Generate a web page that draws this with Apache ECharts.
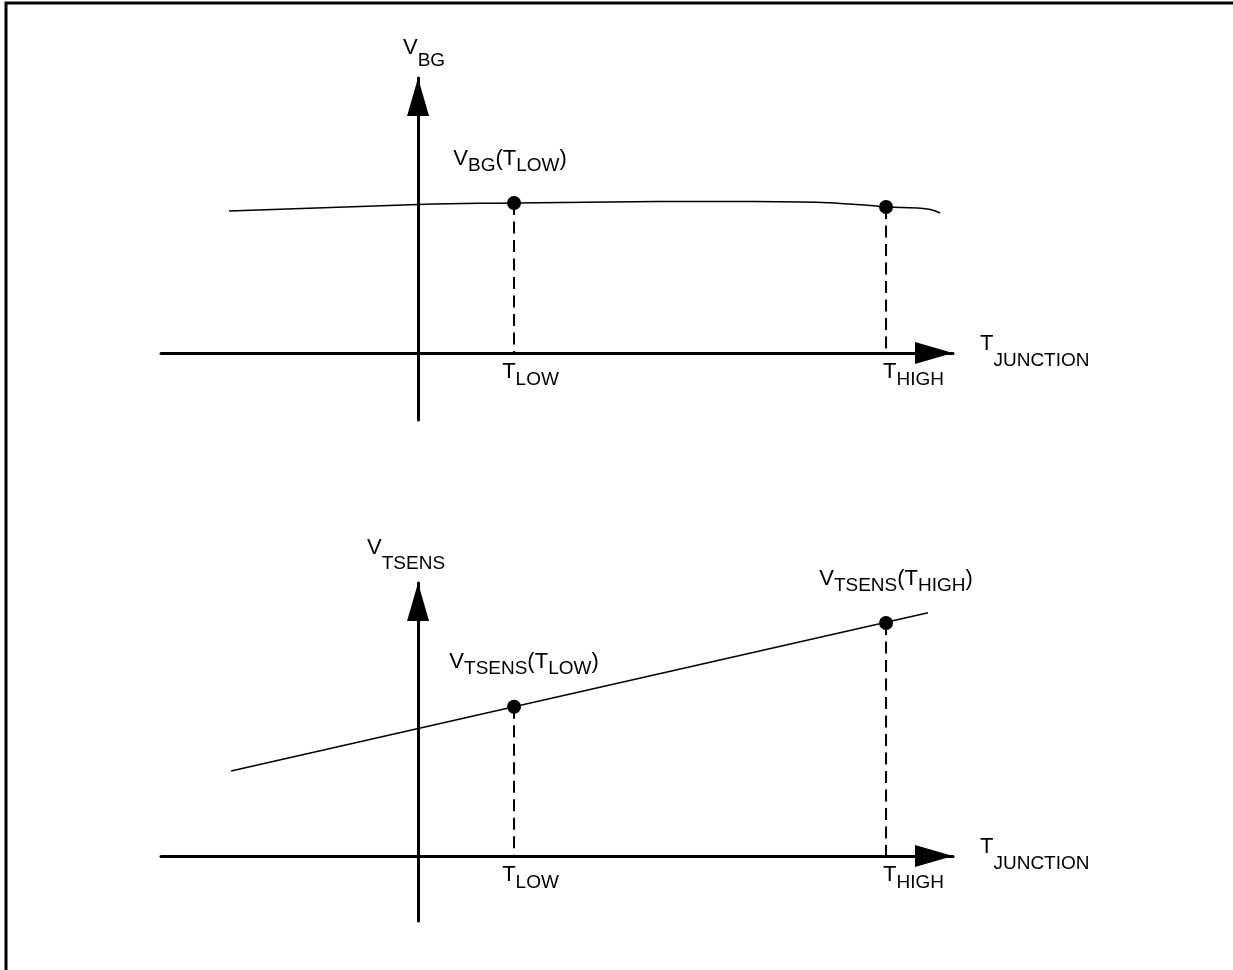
<!DOCTYPE html>
<html>
<head>
<meta charset="utf-8">
<script src="https://cdn.jsdelivr.net/npm/echarts@6/dist/echarts.min.js"></script>
<style>
html, body { margin: 0; padding: 0; background: #fff; }
#main { width: 1233px; height: 970px; }
</style>
</head>
<body>
<div id="main"></div>
<script>
// junction temperature axis, arbitrary units, 0 = where the voltage axis crosses
var tRange = [-21.42, 44.58];
var tTicks = [8, 39];
var tTickLabels = ['{ml|T}{s|LOW}', '{mh|T}{s|HIGH}'];

// upper panel: bandgap voltage (almost flat curve)
var bgRange = [-13.4, 55];
var bgCurveT = [-15.75, 0, 8, 16, 24, 32, 35.2, 37.7, 39, 41.6, 42.7, 43.5];
var bgCurveV = [28.4, 29.7, 30.0, 30.2, 30.3, 30.2, 29.9, 29.5, 29.2, 29.0, 28.7, 28.0];
var bgPointV = [30.0, 29.2];
var bgPointLabels = ['{m|V}{s|BG}{m|(T}{s|LOW}{m|)}', ''];

// lower panel: sensor voltage (straight line)
var tsRange = [-13, 54.6];
var tsLineT = [-15.58, 42.5];
var tsLineV = [17, 48.66];
var tsPointV = [29.85, 46.6];
var tsPointLabels = ['{m|V}{s|TSENS}{m|(T}{s|LOW}{m|)}', '{m|V}{s|TSENS}{m|(T}{s|HIGH}{m|)}'];

var chart = echarts.init(document.getElementById('main'));
var font = "'Liberation Sans', Arial, sans-serif";

function mainStyle(padLeft) {
    return {fontSize: 22, fontFamily: font, color: '#000', verticalAlign: 'top', padding: [0, 0, 0, padLeft || 0]};
}
function subStyle(drop, padBottom, padRight) {
    return {fontSize: 19, fontFamily: font, color: '#000', verticalAlign: 'top', padding: [drop, padRight || 0, padBottom || 0, 0]};
}
function zip(a, b) {
    return a.map(function (x, i) { return [x, b[i]]; });
}
function arrowLine() {
    return {
        show: true, onZero: true,
        symbol: ['none', 'triangle'], symbolSize: [22, 38], symbolOffset: [0, -19],
        lineStyle: {color: '#000', width: 3}
    };
}

// tick labels stay at the grid bottom, so pull them back up to the zero line
function xAxisFor(idx, labelMargin) {
    return {
        type: 'value', gridIndex: idx, min: tRange[0], max: tRange[1],
        axisLine: arrowLine(), axisTick: {show: false}, splitLine: {show: false},
        axisLabel: {
            customValues: tTicks, margin: labelMargin,
            formatter: function (v) { return tTickLabels[tTicks.indexOf(v)]; },
            rich: {ml: mainStyle(33), mh: mainStyle(55), s: subStyle(9.5)}
        },
        name: '{m|T}{s|JUNCTION}', nameLocation: 'end', nameGap: 27,
        nameTextStyle: {rich: {m: mainStyle(), s: subStyle(18.5, 3)}}
    };
}

function yAxisFor(idx, range, name, rich, gap) {
    return {
        type: 'value', gridIndex: idx, min: range[0], max: range[1],
        axisLine: arrowLine(), axisTick: {show: false}, axisLabel: {show: false}, splitLine: {show: false},
        name: name, nameLocation: 'end', nameGap: gap,
        nameTextStyle: {rich: rich}
    };
}

var pointRich = {m: mainStyle(), s: subStyle(8.5)};

function panelSeries(idx, curve, pointV, labels, shifts, smooth) {
    var list = [];
    list.push({
        type: 'line', xAxisIndex: idx, yAxisIndex: idx, data: curve, smooth: smooth,
        showSymbol: false, silent: true, lineStyle: {color: '#000', width: 1.5}
    });
    tTicks.forEach(function (t, i) {
        list.push({
            type: 'line', xAxisIndex: idx, yAxisIndex: idx, data: [[t, pointV[i]], [t, 0]],
            showSymbol: false, silent: true, lineStyle: {color: '#000', width: 2, type: [12, 6.5]}
        });
    });
    list.push({
        type: 'scatter', xAxisIndex: idx, yAxisIndex: idx, symbolSize: 14, silent: true,
        itemStyle: {color: '#000', opacity: 1}, z: 5,
        label: {show: true, position: 'top', distance: 21, color: '#000', rich: pointRich},
        data: tTicks.map(function (t, i) {
            return {
                value: [t, pointV[i]],
                label: {show: !!labels[i], formatter: labels[i], offset: shifts[i]}
            };
        })
    });
    return list;
}

var option = {
    animation: false,
    backgroundColor: '#fff',
    grid: [
        {left: 161, right: 280, top: 78, bottom: 550, outerBoundsMode: 'none'},
        {left: 161, right: 280, top: 583, bottom: 49, outerBoundsMode: 'none'}
    ],
    xAxis: [xAxisFor(0, -59), xAxisFor(1, -57)],
    yAxis: [
        yAxisFor(0, bgRange, '{m|V}{s|BG}', {m: mainStyle(12), s: subStyle(14.5)}, 8),
        yAxisFor(1, tsRange, '{m|V}{s|TSENS}', {m: mainStyle(), s: subStyle(17.5, 0, 24)}, 10)
    ],
    graphic: [{
        type: 'rect', silent: true,
        shape: {x: 6, y: 3, width: 1400, height: 1200},
        style: {fill: 'none', stroke: '#000', lineWidth: 3}
    }],
    series: [].concat(
        panelSeries(0, zip(bgCurveT, bgCurveV), bgPointV, bgPointLabels, [[-4, 0], [0, 0]], 0.5),
        panelSeries(1, zip(tsLineT, tsLineV), tsPointV, tsPointLabels, [[10, 0], [10, 0]], false)
    )
};

chart.setOption(option);
</script>
</body>
</html>
